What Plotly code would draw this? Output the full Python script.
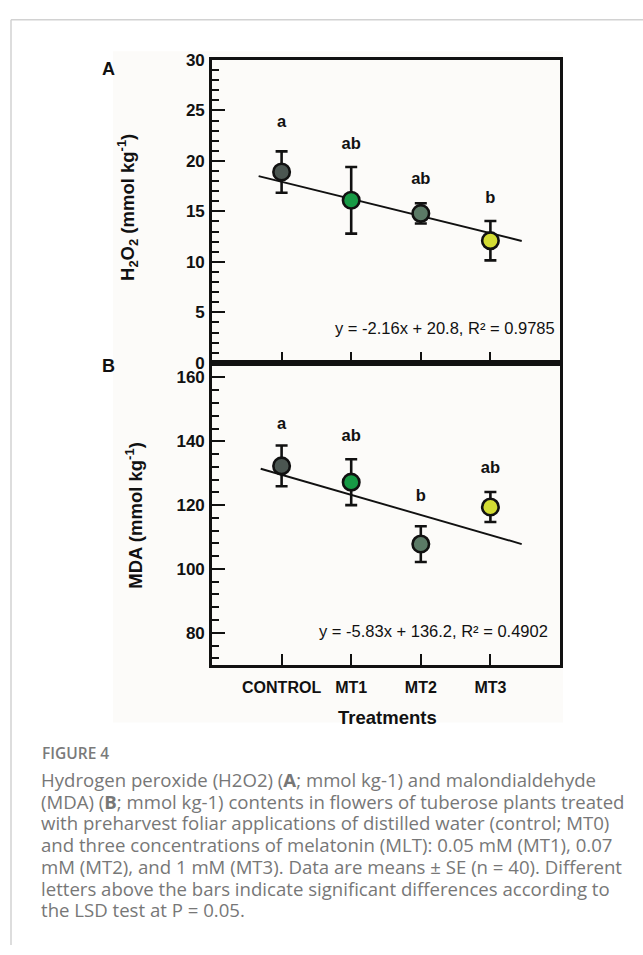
import plotly.graph_objects as go
from plotly.subplots import make_subplots

W, H = 643, 955

# ---------------- data ----------------
categories = ["CONTROL", "MT1", "MT2", "MT3"]
cat_pos = [1, 2, 3, 4]
colors = ["#4b5651", "#179a45", "#5b7a66", "#d3dc34"]

h2o2_mean = [18.9, 16.1, 14.8, 12.1]
h2o2_se = [2.05, 3.3, 1.0, 1.95]
h2o2_letters = ["a", "ab", "ab", "b"]
h2o2_letter_y = [23.8, 21.6, 18.1, 16.2]
h2o2_trend_x = [0.67, 4.45]
h2o2_trend_y = [18.5, 12.07]
h2o2_eq = "y = -2.16x + 20.8, R² = 0.9785"

mda_mean = [132.3, 127.2, 107.8, 119.4]
mda_se = [6.4, 7.2, 5.6, 4.7]
mda_letters = ["a", "ab", "b", "ab"]
mda_letter_y = [145.2, 141.3, 122.5, 131.5]
mda_trend_x = [0.70, 4.45]
mda_trend_y = [131.4, 107.8]
mda_eq = "y = -5.83x + 136.2, R² = 0.4902"

h2o2_ticks = [0, 5, 10, 15, 20, 25, 30]
mda_ticks = [80, 100, 120, 140, 160]

caption_title = "FIGURE 4"
caption_lines = [
    "Hydrogen peroxide (H2O2) (<b>A</b>; mmol kg-1) and malondialdehyde",
    "(MDA) (<b>B</b>; mmol kg-1) contents in flowers of tuberose plants treated",
    "with preharvest foliar applications of distilled water (control; MT0)",
    "and three concentrations of melatonin (MLT): 0.05 mM (MT1), 0.07",
    "mM (MT2), and 1 mM (MT3). Data are means ± SE (n = 40). Different",
    "letters above the bars indicate significant differences according to",
    "the LSD test at P = 0.05.",
]


def px(x):
    return x / W


def py(y):
    return 1 - y / H


FONT = "Arial, Liberation Sans, sans-serif"

fig = make_subplots(rows=2, cols=1, shared_xaxes=False, vertical_spacing=0)

for row, mean, se, tx, ty, letters, ly in [
    (1, h2o2_mean, h2o2_se, h2o2_trend_x, h2o2_trend_y, h2o2_letters, h2o2_letter_y),
    (2, mda_mean, mda_se, mda_trend_x, mda_trend_y, mda_letters, mda_letter_y),
]:
    fig.add_trace(go.Scatter(x=tx, y=ty, mode="lines",
                             line=dict(color="#111111", width=1.9),
                             showlegend=False, hoverinfo="skip"), row=row, col=1)
    fig.add_trace(go.Scatter(
        x=cat_pos, y=mean, mode="markers",
        marker=dict(size=16.5, color=colors, line=dict(color="#111111", width=2.6)),
        error_y=dict(type="data", array=se, visible=True, color="#111111",
                     thickness=2.6, width=6),
        showlegend=False), row=row, col=1)
    fig.add_trace(go.Scatter(
        x=cat_pos, y=ly, mode="text", text=letters,
        textfont=dict(family=FONT, size=16.5, color="#111111", weight="bold"),
        showlegend=False, hoverinfo="skip"), row=row, col=1)

xdom = [px(212), px(560)]
axis_common = dict(showline=True, linecolor="#111111", linewidth=2.6, mirror=True,
                   showgrid=False, zeroline=False, ticks="inside",
                   tickcolor="#111111", tickwidth=2.4)

fig.update_xaxes(**axis_common, range=[0, 5], domain=xdom, tickvals=cat_pos,
                 ticktext=categories, ticklen=11)
fig.update_xaxes(showticklabels=False, row=1, col=1)
fig.update_xaxes(showticklabels=True, row=2, col=1,
                 tickfont=dict(family=FONT, size=16, color="#111111", weight="bold"),
                 ticklabelstandoff=6)

fig.update_yaxes(**axis_common, ticklen=13,
                 tickfont=dict(family=FONT, size=17, color="#111111", weight="bold"),
                 ticklabelstandoff=1)
fig.update_yaxes(range=[0, 30], tickvals=h2o2_ticks, domain=[py(361), py(52)],
                 minor=dict(ticks="inside", ticklen=7, dtick=1, tick0=0,
                            tickwidth=2.2, tickcolor="#111111"),
                 row=1, col=1)
fig.update_yaxes(range=[70, 164.6], tickvals=mda_ticks, domain=[py(669), py(361)],
                 minor=dict(ticks="inside", ticklen=7, dtick=4, tick0=0,
                            tickwidth=2.2, tickcolor="#111111"),
                 row=2, col=1)

annotations = [
    dict(text="A", x=px(108), y=py(61), font=dict(size=18, weight="bold")),
    dict(text="B", x=px(108), y=py(364), font=dict(size=18, weight="bold")),
    dict(text="H<sub>2</sub>O<sub>2</sub> (mmol kg<sup>-1</sup>)", x=px(128), y=py(203),
         textangle=-90, font=dict(size=18.5, weight="bold")),
    dict(text="MDA (mmol kg<sup>-1</sup>)", x=px(134), y=py(517),
         textangle=-90, font=dict(size=18.5, weight="bold")),
    dict(text="Treatments", x=px(387), y=py(723), font=dict(size=18.5, weight="bold")),
    dict(text=h2o2_eq, x=px(557), y=py(325), xanchor="right",
         font=dict(size=16.5)),
    dict(text=mda_eq, x=px(550), y=py(635), xanchor="right",
         font=dict(size=16.5)),
]
for a in annotations:
    a.setdefault("xanchor", "center")
    f = a["font"]
    f.setdefault("family", FONT)
    f.setdefault("color", "#111111")
    fig.add_annotation(xref="paper", yref="paper", showarrow=False, yanchor="middle", **a)

CAP_FONT = "Open Sans, Lato, sans-serif"
fig.add_annotation(xref="paper", yref="paper", showarrow=False, x=px(40), y=py(759),
                   xanchor="left", yanchor="middle", text=caption_title,
                   font=dict(family=CAP_FONT, size=15.5, color="#7a7a7a", weight=600))
caption_text = "<br>".join(
    '<span style="font-size:18.6px">' + ln + "</span>" for ln in caption_lines)
fig.add_annotation(xref="paper", yref="paper", showarrow=False, x=px(40), y=py(772),
                   xanchor="left", yanchor="top", align="left", borderpad=0,
                   text=caption_text,
                   font=dict(family=CAP_FONT, size=16.7, color="#777777"))

shapes = [
    dict(type="rect", x0=px(113), x1=px(563), y0=py(728), y1=py(43),
         fillcolor="#fcfbf9", line=dict(width=0), layer="below"),
    dict(type="line", x0=px(11), x1=px(643), y0=py(11), y1=py(11),
         line=dict(color="#d2d2d2", width=1.5)),
    dict(type="line", x0=px(11), x1=px(11), y0=py(11), y1=py(955),
         line=dict(color="#d2d2d2", width=1.5)),
]
for s in shapes:
    fig.add_shape(xref="paper", yref="paper", **s)

fig.update_layout(width=W, height=H, autosize=False,
                  margin=dict(l=0, r=0, t=0, b=0),
                  paper_bgcolor="white", plot_bgcolor="rgba(0,0,0,0)",
                  font=dict(family=FONT))

fig.write_html("out.html")
